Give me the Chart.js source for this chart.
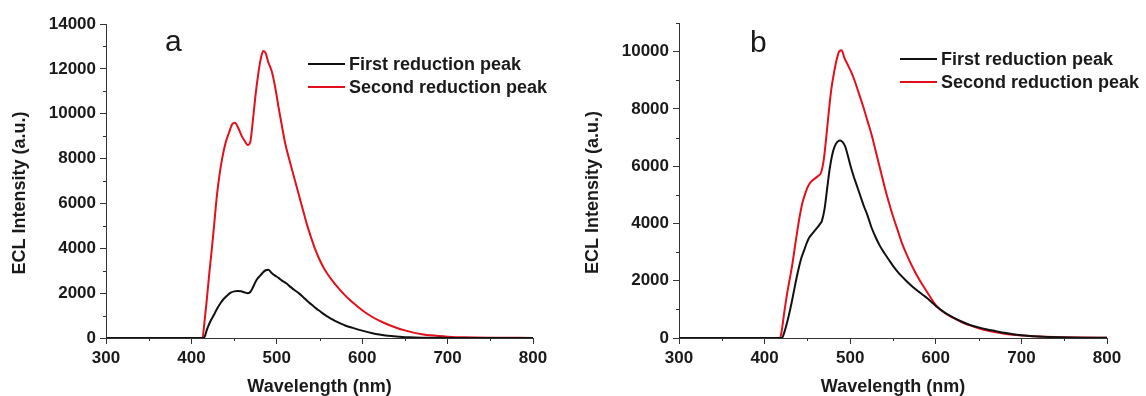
<!DOCTYPE html>
<html>
<head>
<meta charset="utf-8">
<script src="https://cdn.jsdelivr.net/npm/chart.js@4"></script>
<style>
  body { margin: 0; background: #fff; }
  .row { display: flex; width: 1146px; height: 396px; }
  canvas { display: block; }
</style>
</head>
<body>
<div class="row">
  <canvas id="panelA" width="573" height="396"></canvas>
  <canvas id="panelB" width="573" height="396"></canvas>
</div>
<script>
// Panel a - first reduction peak
const aFirstNm = [300, 414, 416, 418, 420, 423, 426, 430, 434, 438, 442, 446, 450, 454, 458, 462, 466, 469, 472, 475, 478, 481, 484, 487, 490, 494, 498, 502, 506, 511, 516, 521, 526, 531, 536, 541, 546, 551, 556, 560, 565, 570, 575, 580, 589, 600, 612, 620, 630, 643, 655, 670, 700, 800];
const aFirstVal = [0, 0, 100, 350, 550, 800, 1000, 1300, 1550, 1750, 1900, 2020, 2080, 2100, 2080, 2040, 2000, 2050, 2250, 2500, 2680, 2800, 2930, 3020, 3040, 2900, 2780, 2680, 2560, 2440, 2280, 2130, 1990, 1820, 1640, 1480, 1320, 1180, 1040, 940, 830, 730, 640, 560, 450, 330, 215, 155, 100, 60, 30, 12, 5, 0];
// Panel a - second reduction peak
const aSecondNm = [300, 413, 415, 418, 421, 424, 427, 430, 433, 436, 440, 444, 448, 451, 455, 459, 463, 466, 469, 472, 475, 478, 481, 484, 487, 490, 494, 498, 502, 506, 510, 515, 520, 525, 530, 535, 540, 545, 550, 555, 560, 565, 570, 575, 580, 585, 590, 600, 610, 620, 630, 640, 650, 660, 670, 680, 690, 700, 720, 750, 800];
const aSecondVal = [0, 0, 600, 1700, 2900, 4000, 5200, 6400, 7300, 8000, 8700, 9150, 9550, 9600, 9350, 9000, 8750, 8600, 8750, 9700, 10800, 11700, 12400, 12800, 12700, 12300, 11900, 11200, 10300, 9450, 8650, 7900, 7200, 6500, 5800, 5100, 4500, 3950, 3500, 3120, 2820, 2560, 2320, 2100, 1900, 1720, 1550, 1240, 980, 770, 600, 460, 340, 240, 170, 118, 84, 60, 30, 12, 5];

// Panel b - first reduction peak
const bFirstNm = [300, 420, 422, 425, 428, 431, 434, 437, 440, 443, 446, 449, 452, 456, 460, 464, 467, 470, 473, 476, 479, 482, 485, 488, 491, 494, 497, 500, 504, 508, 512, 516, 520, 525, 530, 535, 540, 545, 550, 555, 560, 565, 570, 575, 580, 585, 590, 595, 600, 610, 620, 630, 640, 650, 660, 670, 680, 690, 700, 720, 745, 770, 800];
const bFirstVal = [0, 0, 100, 400, 750, 1150, 1600, 2050, 2450, 2800, 3050, 3300, 3500, 3650, 3800, 3950, 4100, 4500, 5200, 5900, 6400, 6700, 6850, 6900, 6850, 6700, 6400, 6050, 5650, 5300, 4950, 4600, 4300, 3850, 3500, 3200, 2960, 2740, 2520, 2330, 2160, 2010, 1870, 1740, 1620, 1500, 1390, 1260, 1120, 900, 720, 575, 455, 370, 300, 240, 180, 130, 95, 52, 25, 12, 5];
// Panel b - second reduction peak
const bSecondNm = [300, 418, 420, 423, 426, 429, 432, 435, 438, 441, 444, 447, 450, 454, 458, 462, 466, 469, 472, 475, 478, 481, 484, 487, 490, 493, 497, 501, 505, 510, 515, 520, 525, 530, 535, 540, 545, 550, 555, 560, 565, 570, 575, 580, 585, 590, 595, 600, 610, 620, 630, 640, 650, 660, 670, 680, 690, 700, 720, 745, 770, 800];
const bSecondVal = [0, 0, 250, 900, 1500, 2000, 2500, 3100, 3700, 4250, 4700, 5000, 5250, 5450, 5550, 5650, 5780, 6200, 7000, 7900, 8700, 9250, 9700, 10000, 10050, 9800, 9550, 9300, 9000, 8550, 8100, 7600, 7100, 6500, 5900, 5300, 4750, 4250, 3800, 3350, 2980, 2650, 2350, 2080, 1830, 1600, 1360, 1150, 880, 710, 560, 440, 340, 260, 200, 150, 115, 90, 50, 30, 15, 10];

// tick labels
const xTicks = [300, 400, 500, 600, 700, 800];
const yTicksA = [0, 2000, 4000, 6000, 8000, 10000, 12000, 14000];
const yTicksB = [0, 2000, 4000, 6000, 8000, 10000];

const seriesNames = ['First reduction peak', 'Second reduction peak'];
const seriesColors = ['#111111', '#e3101c'];
const xTitle = 'Wavelength (nm)';
const yTitle = 'ECL Intensity (a.u.)';

const fontFamily = '"Liberation Sans", Arial, sans-serif';
const axisColor = '#333';
const textColor = '#1a1a1a';

function toPoints(nm, val) {
  return nm.map((x, i) => ({ x: x, y: val[i] }));
}

// short minor ticks between labelled ticks, placed with the scales
const minorTicks = {
  id: 'minorTicks',
  afterDraw(chart) {
    const ctx = chart.ctx;
    const xs = chart.scales.x, ys = chart.scales.y;
    ctx.save();
    ctx.strokeStyle = axisColor;
    ctx.lineWidth = 1;
    ctx.beginPath();
    for (let v = xs.min + 50; v < xs.max; v += 100) {
      const px = Math.round(xs.getPixelForValue(v)) + 0.5;
      ctx.moveTo(px, xs.top);
      ctx.lineTo(px, xs.top + 3);
    }
    for (let v = 1000; v <= ys.max; v += 2000) {
      const py = Math.round(ys.getPixelForValue(v)) + 0.5;
      ctx.moveTo(ys.right - 3, py);
      ctx.lineTo(ys.right, py);
    }
    ctx.stroke();
    ctx.restore();
  }
};

// panel letter, y title and in-plot legend
const panelDecor = {
  id: 'panelDecor',
  afterDraw(chart, args, opts) {
    const ctx = chart.ctx;
    const area = chart.chartArea;
    ctx.save();
    ctx.fillStyle = textColor;
    ctx.font = '30px ' + fontFamily;
    ctx.textBaseline = 'alphabetic';
    ctx.fillText(opts.letter, opts.letterX, opts.letterY);

    ctx.font = 'bold 18px ' + fontFamily;
    ctx.save();
    ctx.translate(20, (area.top + area.bottom) / 2 + 12);
    ctx.rotate(-Math.PI / 2);
    ctx.textAlign = 'center';
    ctx.textBaseline = 'middle';
    ctx.fillText(yTitle, 0, 0);
    ctx.restore();

    ctx.textBaseline = 'middle';
    chart.data.datasets.forEach((ds, i) => {
      const y = opts.legendY + i * 23;
      ctx.strokeStyle = ds.borderColor;
      ctx.lineWidth = 2;
      ctx.beginPath();
      ctx.moveTo(opts.legendX, y);
      ctx.lineTo(opts.legendX + 37, y);
      ctx.stroke();
      ctx.fillStyle = textColor;
      ctx.fillText(ds.label, opts.legendX + 41, y + 1);
    });
    ctx.restore();
  }
};

function makeChart(id, first, second, yMax, yTicks, decor, padTop, padRight) {
  return new Chart(document.getElementById(id), {
    type: 'line',
    data: {
      datasets: [
        { label: seriesNames[0], data: first, borderColor: seriesColors[0] },
        { label: seriesNames[1], data: second, borderColor: seriesColors[1] }
      ]
    },
    options: {
      responsive: false,
      animation: false,
      layout: { padding: { left: 0, top: padTop, right: padRight, bottom: 0 } },
      elements: {
        point: { radius: 0 },
        line: { borderWidth: 2, cubicInterpolationMode: 'monotone', fill: false }
      },
      plugins: {
        legend: { display: false },
        tooltip: { enabled: false },
        panelDecor: decor
      },
      scales: {
        x: {
          type: 'linear',
          min: 300,
          max: 800,
          afterBuildTicks(scale) {
            scale.ticks = xTicks.map(v => ({ value: v }));
          },
          ticks: {
            padding: 4,
            maxRotation: 0,
            color: textColor,
            callback: v => String(v),
            font: { family: fontFamily, size: 17, weight: 'bold' }
          },
          grid: { drawOnChartArea: false, tickLength: 6, color: axisColor },
          border: { color: axisColor, width: 1 },
          title: {
            display: true,
            text: xTitle,
            color: textColor,
            padding: 0,
            font: { family: fontFamily, size: 18, weight: 'bold', lineHeight: 1 }
          },
          afterFit(scale) { scale.height = 58; }
        },
        y: {
          type: 'linear',
          min: 0,
          max: yMax,
          afterBuildTicks(scale) {
            scale.ticks = yTicks.map(v => ({ value: v }));
          },
          ticks: {
            padding: 4,
            color: textColor,
            callback: v => String(v),
            font: { family: fontFamily, size: 17, weight: 'bold' }
          },
          grid: { drawOnChartArea: false, tickLength: 6, color: axisColor },
          border: { color: axisColor, width: 1 },
          afterFit(scale) { scale.width = 106; }
        }
      }
    },
    plugins: [minorTicks, panelDecor]
  });
}

makeChart('panelA', toPoints(aFirstNm, aFirstVal), toPoints(aSecondNm, aSecondVal), 14000, yTicksA,
  { letter: 'a', letterX: 165, letterY: 51, legendX: 308, legendY: 64 }, 24, 40);
makeChart('panelB', toPoints(bFirstNm, bFirstVal), toPoints(bSecondNm, bSecondVal), 11000, yTicksB,
  { letter: 'b', letterX: 177, letterY: 52, legendX: 327, legendY: 59 }, 23, 39);
</script>
</body>
</html>
